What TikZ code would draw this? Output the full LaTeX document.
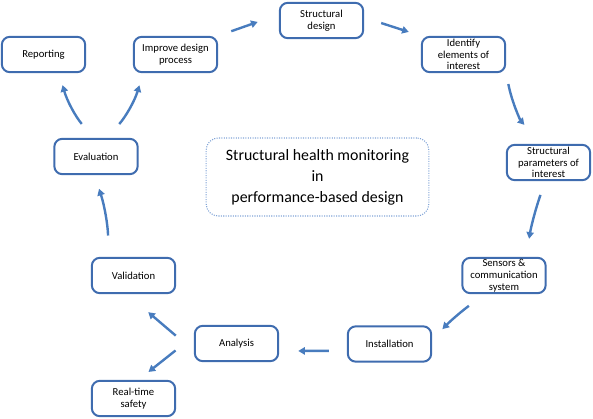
\documentclass[tikz,border=0pt]{standalone}
\usepackage{fontspec}
\setmainfont{Carlito}
\usetikzlibrary{arrows.meta}

\definecolor{boxblue}{RGB}{63,108,175}
\definecolor{arrowblue}{RGB}{72,124,190}
\definecolor{dotblue}{RGB}{130,165,215}

\tikzset{every picture/.style={line width=0.75pt}}
\tikzset{
  stage/.style={draw=boxblue, line width=1.5pt, rounded corners=6pt,
    minimum width=62.5pt, minimum height=26.5pt, inner sep=1pt,
    align=center, font=\fontsize{8}{8.8}\selectfont},
  flow/.style={draw=arrowblue, line width=1.8pt,
    -{Triangle[length=5pt,width=5.5pt]}},
}

\begin{document}
\begin{tikzpicture}[x=0.75pt,y=0.75pt,yscale=-1,xscale=1]
\useasboundingbox (0,0) rectangle (593,418);

% Title
\node[draw=dotblue, densely dotted, line width=0.8pt, rounded corners=9pt,
  minimum width=167pt, minimum height=58.5pt, align=center,
  font=\fontsize{11.9}{15.75}\selectfont] (title) at (317.5,177)
  {Structural health monitoring\\in\\performance-based design};

% Text Node
\node[stage] (sdesign) at (321.5,20.5) {Structural\\design};
\node[stage] (identify) at (463.5,54.5) {Identify\\elements of\\interest};
\node[stage] (params) at (548.5,162.5) {Structural\\parameters of\\interest};
\node[stage] (sensors) at (504,275.5) {Sensors \&\\communication\\system};
\node[stage] (install) at (389.5,344) {Installation};
\node[stage] (analysis) at (236.5,343.5) {Analysis};
\node[stage] (realtime) at (133.5,398.5) {Real-time\\safety};
\node[stage] (validation) at (133.5,275.5) {Validation};
\node[stage] (evaluation) at (96,156.5) {Evaluation};
\node[stage] (reporting) at (43.5,54.5) {Reporting};
\node[stage] (improve) at (175.5,54.5) {Improve design\\process};

% Connection
\draw[flow, shorten <=10.4pt, shorten >=16.8pt] (improve.north east) -- (sdesign.172);
\draw[flow, shorten <=13.4pt, shorten >=9.5pt] (sdesign.4) -- (identify.north west);
\draw[flow, shorten <=8.3pt, shorten >=18.9pt] (identify.south east) to[bend left=15] (params.112);
\draw[flow, shorten <=10.9pt, shorten >=13.7pt] (params.-100) to[bend left=5] (sensors.40);
\draw[flow, shorten <=15.1pt, shorten >=10.9pt] (sensors.225) to[bend left=5] (install.6);
\draw[flow, shorten <=13.5pt, shorten >=14.3pt] (install.189) -- (analysis.-10);
\draw[flow, shorten <=17.8pt, shorten >=20.8pt] (analysis.190) -- (validation.251);
\draw[flow, shorten <=17.5pt, shorten >=9.5pt] (analysis.170) -- (realtime.75);
\draw[flow, shorten <=16pt, shorten >=10.7pt] (validation.143) to[bend left=8] (evaluation.266);
\draw[flow, shorten <=13.6pt, shorten >=9.3pt] (evaluation.98) to[bend right=12] (reporting.310);
\draw[flow, shorten <=13.7pt, shorten >=9.5pt] (evaluation.59) to[bend left=12] (improve.210);

\end{tikzpicture}
\end{document}
